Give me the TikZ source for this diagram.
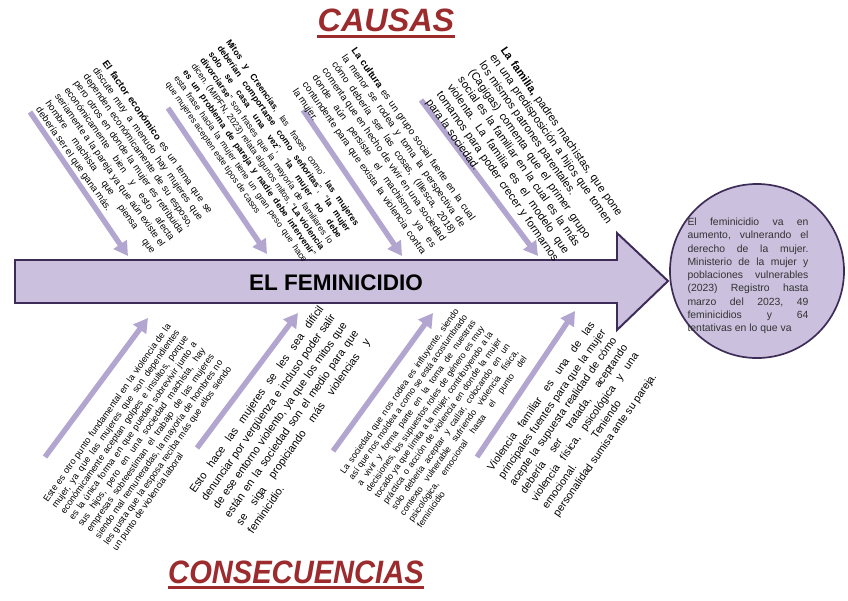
\documentclass[tikz,border=0pt]{standalone}
\usepackage{fontspec}
\setmainfont{Liberation Sans}
\usetikzlibrary{arrows.meta}
\definecolor{lila}{HTML}{CBC0DD}
\definecolor{lilaborde}{HTML}{3E2C58}
\definecolor{hueso}{HTML}{B2A5CF}
\definecolor{rojotitulo}{HTML}{9C2B2E}
\hyphenpenalty=10000
\exhyphenpenalty=10000
\newcommand{\tam}[2]{\fontsize{#1}{#2}\selectfont\frenchspacing}
\tikzset{
espina/.style={
	draw=hueso,
	line width=3.8pt,
	-{Triangle[length=10pt,width=11pt]}
},
bloque/.style={
	inner sep=0pt,
	align=justify,
	text=black,
	anchor=north west
},
causa/.style={bloque, rotate=-55},
efecto/.style={bloque, rotate=55},
titulo/.style={
	font=\fontsize{23}{26}\selectfont\bfseries\itshape,
	text=rojotitulo,
	inner sep=0pt,
	anchor=base
},
subraya/.style={draw=rojotitulo, line width=1.8pt},
flecha/.style={draw=lilaborde, fill=lila, line width=1.4pt}
}
\begin{document}
\begin{tikzpicture}[x=0.025cm, y=-0.025cm]
\useasboundingbox (0,0) rectangle (848,600);
% ===== Main arrow and result =====
\draw [flecha] (15,260) -- (617,260) -- (617,233) -- (668,281) -- (617,330) -- (617,303) -- (15,303) -- cycle;
\node (tema)   [font=\fontsize{16}{18}\selectfont\bfseries] at (336,283) {EL FEMINICIDIO};
\node (circulo) [circle, draw=lilaborde, fill=lila, line width=1.2pt, minimum size=4.35cm] at (757,271) {};
\node (datos)  [bloque, anchor=center, text width=86pt, text=black!80, font=\tam{7.4}{9.45}] at (748,276)
  {\parfillskip=0pt El feminicidio va en\linebreak
   aumento, vulnerando el\linebreak
   derecho de la mujer.\linebreak
   Ministerio de la mujer y\linebreak
   poblaciones vulnerables\linebreak
   (2023) Registro hasta\linebreak
   marzo del 2023, 49\linebreak
   feminicidios y 64\linebreak
   tentativas en lo que va};

% ===== Titles =====
\node (causas) [titulo] at (386,31) {CAUSAS};
\node (consec) [titulo] at (296,583) {\scalebox{0.9}[1]{CONSECUENCIAS}};
\draw [subraya] ([yshift=-3.8pt]causas.base west) -- ([yshift=-3.8pt]causas.base east);
\draw [subraya] ([yshift=-3.2pt]consec.base west) -- ([yshift=-3.2pt]consec.base east);

% ===== Bones (causes above, consequences below) =====
\coordinate (c1a) at (30,112);  \coordinate (c1b) at (128,256);
\coordinate (c2a) at (168,108); \coordinate (c2b) at (267,254);
\coordinate (c3a) at (303,110); \coordinate (c3b) at (402,256);
\coordinate (c4a) at (421,100); \coordinate (c4b) at (538,256);
\coordinate (e1a) at (45,457);  \coordinate (e1b) at (148,318);
\coordinate (e2a) at (197,448); \coordinate (e2b) at (298,313);
\coordinate (e3a) at (333,451); \coordinate (e3b) at (433,313);
\coordinate (e4a) at (477,457); \coordinate (e4b) at (575,311);
\foreach \i in {c1,c2,c3,c4,e1,e2,e3,e4}
  \draw [espina] (\i a) -- (\i b);

% ===== Causes =====
\node (eco) [causa, text width=131pt, font=\tam{6.8}{8.25}] at (108,59)
  {\textbf{El factor económico} es un tema que se\linebreak
   discute muy a menudo hay mujeres que\linebreak
   dependen económicamente de su esposo,\linebreak
   pero otros en donde la mujer es retribuida\linebreak
   económicamente bien y esto afecta\linebreak
   seriamente a la pareja ya que aún existe el\linebreak
   hombre machista que piensa que\linebreak
   debería ser el que gana más.};
\node (mitos) [causa, text width=160pt, font=\tam{6.2}{7.5}] at (231,38)
  {\textbf{Mitos y Creencias}, las frases como’ \textbf{las mujeres}\linebreak
   \textbf{deberían comportarse como señoritas}”, “\textbf{la mujer}\linebreak
   \textbf{solo se casa una vez}”, “\textbf{la mujer no debe}\linebreak
   \textbf{divorciarse}” son frases que la mayoría de familiares lo\linebreak
   dicen. (MIPFN, 2023) relata algunos mitos, “\textbf{La violencia}\linebreak
   \textbf{es un problema de pareja y nadie debe intervenir}”\linebreak
   esta frase hacia la mujer tiene un gran peso que hace\linebreak
   que mujeres acepten este tipos de casos};
\node (cultura) [causa, text width=148pt, font=\tam{6.9}{8.5}] at (357,46)
  {\textbf{La cultura} es un grupo social fuerte en la cual\linebreak
   la menor se rodea y toma la perspectiva de\linebreak
   cómo debería ser las cosas, (Illesca, 2018)\linebreak
   comenta que en hecho de vivir en una sociedad\linebreak
   donde aún persiste el machismo ya es\linebreak
   contundente para que exista la violencia contra\linebreak
   la mujer.};
\node (familia) [causa, text width=145pt, font=\tam{7.9}{9.25}] at (507,45)
  {\textbf{La familia,} padres machistas, que pone\linebreak
   en una predisposición a hijos que tomen\linebreak
   los mismos patrones parentales.\\
   (Cagigas) comenta que el primer grupo\linebreak
   social es la familiar en la cual es la más\linebreak
   violenta. La familia es el modelo que\linebreak
   tomamos para poder crecer y formarnos\linebreak
   para la sociedad.};

% ===== Consequences =====
\node (laboral) [efecto, text width=153pt, font=\tam{6.5}{7.5}] at (42,499)
  {Este es otro punto fundamental en la violencia de la\linebreak
   mujer, ya que las mujeres que son dependientes\linebreak
   económicamente aceptan golpes e insultos, porque\linebreak
   es la única forma en que puedan sobrevivir junto a\linebreak
   sus hijos, pero en una sociedad machista, hay\linebreak
   empresas sobreestiman el trabajo de las mujeres\linebreak
   siendo mal remuneradas, la mayoría de hombres no\linebreak
   les gusta que la esposa reciba más que ellos siendo\linebreak
   un punto de violencia laboral};
\node (denuncia) [efecto, text width=160pt, font=\tam{7.8}{10.1}] at (188,489)
  {Esto hace las mujeres se les sea difícil\linebreak
   denunciar por vergüenza e incluso poder salir\linebreak
   de ese entorno violento, ya que los mitos que\linebreak
   están en la sociedad son el medio para que\linebreak
   se siga propiciando más violencias y\linebreak
   feminicidio.};
\node (sociedad) [efecto, text width=142pt, font=\tam{6.3}{7.4}] at (339,471)
  {La sociedad que nos rodea es influyente, siendo\linebreak
   así que nos moldea a como se está acostumbrado\linebreak
   a vivir y forma parte en la toma de nuestras\linebreak
   decisiones, los supuestos roles de género es muy\linebreak
   tocado ya que limita a la mujer, contribuyendo a la\linebreak
   práctica o acción de violencia en donde la mujer\linebreak
   solo debería aceptar y callar, colocando en un\linebreak
   contexto vulnerable sufriendo violencia física,\linebreak
   psicológica, emocional hasta el punto del\linebreak
   feminicidio};
\node (hogar) [efecto, text width=127pt, font=\tam{7.6}{9.5}] at (486,467)
  {\parfillskip=0pt Violencia familiar es una de las\linebreak
   principales fuentes para que la mujer\linebreak
   acepte la supuesta realidad de cómo\linebreak
   debería ser tratada, aceptando\linebreak
   violencia física, psicológica y una\linebreak
   emocional.\hspace{3.2em}Teniendo\\
   personalidad sumisa ante su pareja.};
\end{tikzpicture}
\end{document}
